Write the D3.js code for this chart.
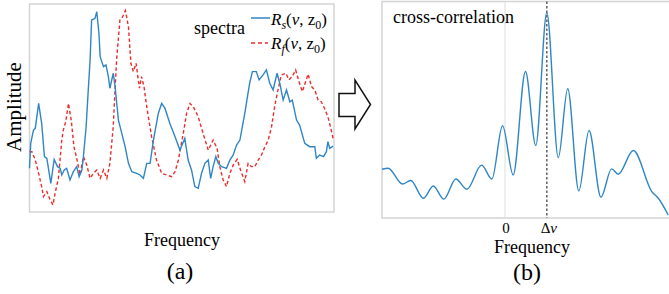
<!DOCTYPE html>
<html>
<head>
<meta charset="utf-8">
<script src="https://cdn.jsdelivr.net/npm/d3@7"></script>
<style>
  html, body { margin: 0; padding: 0; background: #fff; }
  svg { display: block; font-family: "Liberation Serif", "Times New Roman", serif; }
</style>
</head>
<body>
<script>
// spectra R_s(nu, z0): [frequency, amplitude]
const spectrumS = [
  [0, 21], [0.4, 33], [1.3, 39.4], [1.9, 40.2], [3, 52.2], [4, 42.6], [4.9, 26.6], [5.7, 25.8],
  [7, 13.8], [8.1, 25.3], [9.2, 21.8], [10.1, 21], [10.6, 17.8], [11.4, 20.2], [12.2, 21], [13.3, 15.4],
  [14.4, 19.4], [15.5, 21.8], [16.3, 17], [17.2, 20.2], [17.7, 26.6], [18.6, 41], [19.3, 58.7], [19.9, 73.1],
  [20.4, 92.3], [21.5, 93.1], [22.1, 96.3], [22.8, 85.9], [23.2, 74.7], [24.3, 69.9], [25.1, 70.7], [25.9, 65.1],
  [26.4, 59.5], [27.5, 66.7], [28.1, 60.3], [29.2, 44.2], [30.3, 37.8], [31.4, 31.4], [32.5, 23.4], [33.6, 19.4],
  [35.2, 18.6], [36.3, 17.8], [37.4, 16.2], [38.5, 23.4], [39.6, 23.4], [40.7, 34.6], [42.3, 47.4], [43.4, 52.2],
  [44.5, 49.8], [46.1, 42.6], [47.8, 36.2], [49.4, 29.8], [51, 35.4], [52.1, 25], [53.2, 20.2], [54.3, 12.2],
  [55.4, 11.4], [56.5, 18.6], [57.6, 23.4], [58.7, 25], [59.5, 16.2], [60.3, 21.8], [61.2, 26.6], [62, 23.4],
  [63.1, 21.8], [64.7, 21], [65.8, 25], [66.9, 27.4], [68, 32.2], [69.1, 34.6], [70.7, 47.4], [72.3, 61.9],
  [73.2, 67.5], [74.5, 67.5], [75.4, 63.5], [76.7, 65.9], [77.8, 68.3], [78.9, 61.9], [80, 58.7], [81.3, 66.7],
  [82.2, 61.9], [83.3, 53.8], [84.4, 58.7], [85.5, 53], [86.3, 53.8], [87.7, 44.2], [88.7, 41.8], [90.4, 33],
  [92, 31.4], [93.7, 31.4], [94.2, 25.8], [95.3, 27.4], [96.6, 26.6], [97.5, 29], [98, 33.8], [98.6, 30.6],
  [99.7, 31.7]
];

// spectra R_f(nu, z0): [frequency, amplitude]
const spectrumF = [
  [0, 29], [0.8, 29], [1.9, 25], [3, 18.6], [4, 12.2], [4.6, 7.4], [5.7, 9.8], [6.8, 5.8],
  [7.7, 3.4], [8.4, 9], [9.5, 16.2], [10.6, 34.6], [11.1, 39.4], [11.9, 43.4], [12.8, 52.2], [13.7, 44.2],
  [14.6, 31.4], [15.5, 25.8], [16.6, 17.8], [17.7, 26.6], [18.8, 22.6], [19.9, 16.2], [21, 18.6], [22.1, 20.2],
  [23.2, 16.2], [24.3, 20.2], [25.4, 16.2], [26.4, 23.4], [27.5, 41], [28.6, 73.1], [29.7, 92.3], [30.6, 93.9],
  [31.5, 96.8], [32.5, 89.1], [33.3, 71.5], [34.1, 67.5], [35, 71.5], [36.1, 59.5], [36.8, 65.1], [37.6, 60.3],
  [38.5, 50.6], [40.1, 36.2], [41.7, 25], [43.4, 18.6], [45, 17.8], [46.7, 17], [47.8, 19.4], [48.9, 25],
  [50.5, 37.8], [51.6, 47.4], [52.7, 52.2], [53.8, 50.6], [55.4, 45.8], [57, 37.8], [58.7, 29.8], [60.3, 34.6],
  [61.6, 30.6], [62.5, 21.8], [63.6, 15.4], [64.7, 12.2], [65.8, 18.6], [66.9, 22.6], [68.2, 25.3], [69.3, 20.2],
  [70.7, 14.6], [71.8, 23.4], [72.9, 21.8], [74, 21.8], [75.1, 25], [76.2, 27.4], [77.3, 31.4], [78.4, 34.6],
  [79.5, 41], [80.5, 50.6], [81.6, 58.7], [82.7, 65.9], [84.2, 66.7], [85.2, 63.5], [86.3, 65.1], [87.4, 68.3],
  [88.5, 62.7], [89.6, 57.9], [90.7, 62.7], [91.5, 66.3], [92.6, 60.3], [93.7, 58.7], [94.8, 53.8], [95.8, 53],
  [96.9, 49.8], [98, 45.8], [99.1, 39.4], [99.7, 35.4]
];

// cross-correlation: [lag, value]
const crossCorr = [
  [-30, 22.5], [-28.5, 23], [-25, 15.7], [-23, 17.3], [-19.9, 9.1], [-17.5, 14.8], [-14.9, 8.7],
  [-12, 18], [-9.3, 13.3], [-5.7, 24.4], [-3.2, 18], [-0.6, 42.6], [2, 19.9], [5, 67.7],
  [7.5, 33.5], [10.2, 94.8], [13, 27.9], [15.3, 59.7], [18, 12.5], [20.5, 40.4], [23.4, 9.6],
  [26, 22.7], [27.6, 20.2], [31.3, 31.2], [35.8, 12.2], [37.4, 9.1], [39.8, 1.4]
];

const deltaNu = 10.2;
const lagTicks = [
  { value: 0, label: "0" },
  { value: deltaNu, label: "Δν" }
];

const width = 669;
const height = 294;
const blue = "#2f86c6";
const red = "#ee2a2a";
const frame = "#d4d4d4";

const svg = d3.select("body").append("svg")
  .attr("width", width)
  .attr("height", height);

// ---- panel (a): spectra ----
const xa = d3.scaleLinear().domain([0, 100]).range([29.5, 334]);
const ya = d3.scaleLinear().domain([0, 100]).range([212, 4]);

svg.append("rect")
  .attr("x", xa(0)).attr("y", ya(100))
  .attr("width", xa(100) - xa(0)).attr("height", ya(0) - ya(100))
  .attr("fill", "none").attr("stroke", frame).attr("stroke-width", 1.5);

const lineA = d3.line().x((d) => xa(d[0])).y((d) => ya(d[1]));

svg.append("path").datum(spectrumF)
  .attr("d", lineA)
  .attr("fill", "none").attr("stroke", red)
  .attr("stroke-width", 1.4).attr("stroke-dasharray", "3.5,2.5");

svg.append("path").datum(spectrumS)
  .attr("d", lineA)
  .attr("fill", "none").attr("stroke", blue)
  .attr("stroke-width", 1.4);

// legend
svg.append("text").attr("x", 194).attr("y", 34)
  .attr("font-size", 18).text("spectra");

svg.append("line").attr("x1", 251).attr("x2", 270).attr("y1", 18).attr("y2", 18)
  .attr("stroke", blue).attr("stroke-width", 1.5);
svg.append("line").attr("x1", 251).attr("x2", 268).attr("y1", 43).attr("y2", 43)
  .attr("stroke", red).attr("stroke-width", 1.5).attr("stroke-dasharray", "4,3");

function legendLabel(y, sub) {
  const t = svg.append("text").attr("x", 271).attr("y", y).attr("font-size", 17);
  t.append("tspan").attr("font-style", "italic").text("R");
  t.append("tspan").attr("font-style", "italic").attr("font-size", 12).attr("dy", 4).text(sub);
  t.append("tspan").attr("dy", -4).text("(");
  t.append("tspan").attr("font-style", "italic").text("ν");
  t.append("tspan").text(", z");
  t.append("tspan").attr("font-size", 12).attr("dy", 4).text("0");
  t.append("tspan").attr("dy", -4).text(")");
}
legendLabel(25, "s");
legendLabel(49, "f");

svg.append("text")
  .attr("transform", "translate(21,107) rotate(-90)")
  .attr("text-anchor", "middle").attr("font-size", 21)
  .text("Amplitude");

svg.append("text").attr("x", 182).attr("y", 246)
  .attr("text-anchor", "middle").attr("font-size", 18).text("Frequency");
svg.append("text").attr("x", 180).attr("y", 279)
  .attr("text-anchor", "middle").attr("font-size", 24).text("(a)");

// ---- arrow ----
svg.append("path")
  .attr("d", "M339,93.5 L355,93.5 L355,80 L370.5,104.5 L355,129 L355,116.5 L339,116.5 Z")
  .attr("fill", "#fff").attr("stroke", "#111").attr("stroke-width", 1.5)
  .attr("stroke-linejoin", "miter");

// ---- panel (b): cross-correlation ----
const xb = d3.scaleLinear().domain([-30, 40]).range([382, 669]);
const yb = d3.scaleLinear().domain([0, 100]).range([218, 1.5]);

svg.append("path")
  .attr("d", `M${width + 2},${yb(100)} L${xb(-30)},${yb(100)} L${xb(-30)},${yb(0)} L${width + 2},${yb(0)}`)
  .attr("fill", "none").attr("stroke", frame).attr("stroke-width", 1.5);

svg.append("line")
  .attr("x1", xb(0)).attr("x2", xb(0)).attr("y1", yb(100)).attr("y2", yb(0))
  .attr("stroke", "#dcdcdc").attr("stroke-width", 1);

svg.append("line")
  .attr("x1", xb(deltaNu)).attr("x2", xb(deltaNu)).attr("y1", yb(100)).attr("y2", yb(0))
  .attr("stroke", "#555").attr("stroke-width", 1.4).attr("stroke-dasharray", "2.5,2");

const lineB = d3.line().x((d) => xb(d[0])).y((d) => yb(d[1])).curve(d3.curveMonotoneX);

svg.append("path").datum(crossCorr)
  .attr("d", lineB)
  .attr("fill", "none").attr("stroke", blue).attr("stroke-width", 1.4);

svg.append("text").attr("x", 393).attr("y", 23)
  .attr("font-size", 18).text("cross-correlation");

const tickG = svg.append("g").selectAll("text").data(lagTicks).join("text")
  .attr("x", (d) => xb(d.value) + (d.value === 0 ? 1 : 2))
  .attr("y", 233)
  .attr("text-anchor", "middle")
  .attr("font-size", 15);
tickG.each(function (d) {
  const t = d3.select(this);
  if (d.label === "Δν") {
    t.append("tspan").text("Δ");
    t.append("tspan").attr("font-style", "italic").text("ν");
  } else {
    t.text(d.label);
  }
});

svg.append("text").attr("x", 532).attr("y", 253)
  .attr("text-anchor", "middle").attr("font-size", 18).text("Frequency");
svg.append("text").attr("x", 527).attr("y", 280)
  .attr("text-anchor", "middle").attr("font-size", 24).text("(b)");
</script>
</body>
</html>
